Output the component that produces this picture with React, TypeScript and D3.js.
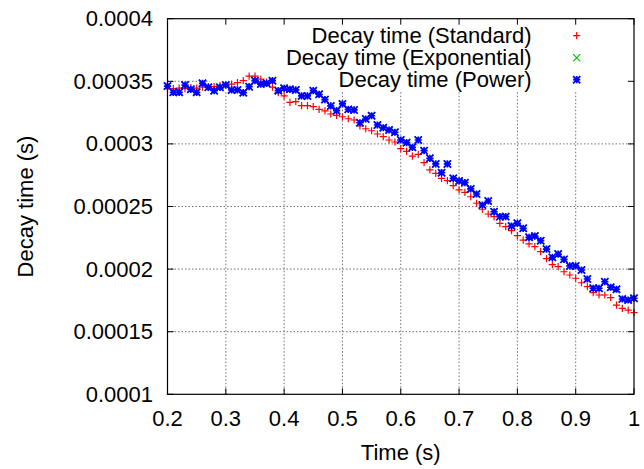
import React from "react";
import * as d3 from "d3";

const times: number[] = d3.range(81).map((i) => Math.round((0.2 + i * 0.01) * 100) / 100);

// Decay time values in microseconds (x1e-6 s)
const standardUs: number[] = [
  344.2, 344.2, 344.6, 344.2, 345.0, 344.6, 345.4, 345.8, 345.8, 346.6,
  347.4, 347.8, 349.0, 350.6, 354.2, 354.2, 351.8, 349.4, 345.4, 340.9,
  338.3, 333.1, 333.7, 330.5, 330.5, 329.7, 327.6, 326.3, 323.9, 322.8,
  321.7, 320.1, 319.1, 314.3, 312.1, 310.5, 307.9, 305.8, 303.1, 301.5,
  296.2, 294.1, 290.3, 291.7, 285.0, 279.2, 276.5, 272.5, 270.6, 266.6,
  263.2, 261.3, 257.8, 252.6, 247.8, 244.0, 241.9, 236.6, 233.9, 230.7,
  226.7, 223.2, 220.1, 217.9, 213.9, 208.3, 203.5, 201.9, 197.9, 195.3,
  192.7, 189.1, 186.0, 181.2, 179.3, 179.3, 177.2, 171.3, 168.7, 167.3,
  165.2,
];

const powerUs: number[] = [
  346.2, 341.2, 341.2, 347.0, 343.6, 341.2, 348.4, 345.2, 342.5, 345.2,
  347.0, 343.1, 343.1, 340.9, 345.7, 350.5, 347.8, 348.4, 350.5, 342.5,
  344.4, 343.6, 343.1, 338.3, 338.3, 342.5, 339.6, 335.4, 330.3, 326.5,
  331.9, 327.6, 327.1, 316.9, 319.9, 322.5, 315.1, 312.9, 311.1, 309.3,
  303.1, 301.0, 297.3, 303.1, 294.6, 288.5, 284.0, 277.0, 284.0, 272.5,
  270.4, 269.0, 264.0, 260.0, 251.2, 254.4, 245.8, 241.9, 241.9, 234.4,
  236.6, 232.6, 225.4, 226.4, 222.7, 216.0, 209.4, 212.0, 207.8, 202.5,
  202.5, 199.3, 192.1, 184.7, 184.7, 189.9, 185.5, 183.9, 176.1, 175.3,
  176.7,
];

// Exponential fit lies underneath the power fit
const exponentialUs: number[] = [
  346.2, 341.2, 341.2, 347.0, 343.6, 341.2, 348.4, 345.2, 342.5, 345.2,
  347.0, 343.1, 343.1, 340.9, 345.7, 350.5, 347.8, 348.4, 350.5, 342.5,
  344.4, 343.6, 343.1, 338.3, 338.3, 342.5, 339.6, 335.4, 330.3, 326.5,
  331.9, 327.6, 327.1, 316.9, 319.9, 322.5, 315.1, 312.9, 311.1, 309.3,
  303.1, 301.0, 297.3, 303.1, 294.6, 288.5, 284.0, 277.0, 284.0, 272.5,
  270.4, 269.0, 264.0, 260.0, 251.2, 254.4, 245.8, 241.9, 241.9, 234.4,
  236.6, 232.6, 225.4, 226.4, 222.7, 216.0, 209.4, 212.0, 207.8, 202.5,
  202.5, 199.3, 192.1, 184.7, 184.7, 189.9, 185.5, 183.9, 176.1, 175.3,
  176.7,
];

const xTicks: number[] = [0.2, 0.3, 0.4, 0.5, 0.6, 0.7, 0.8, 0.9, 1];
const yTicks: number[] = [0.0001, 0.00015, 0.0002, 0.00025, 0.0003, 0.00035, 0.0004];
const yTickLabels: string[] = ["0.0001", "0.00015", "0.0002", "0.00025", "0.0003", "0.00035", "0.0004"];
const seriesNames: string[] = ["Decay time (Standard)", "Decay time (Exponential)", "Decay time (Power)"];
const seriesColors: string[] = ["#ff0000", "#00c000", "#0000ff"];

const W = 644;
const H = 469;
const L = 167.5;
const R = 634;
const T = 18.7;
const B = 394.3;
const FONT = "'Liberation Sans', Arial, Helvetica, sans-serif";
const FS = 22;

const x = d3.scaleLinear().domain([0.2, 1]).range([L, R]);
const y = d3.scaleLinear().domain([0.0001, 0.0004]).range([B, T]);

function Marker({ kind, cx, cy, color }: { kind: number; cx: number; cy: number; color: string }) {
  const s = 3.6;
  const plus = `M${cx - s},${cy}H${cx + s}M${cx},${cy - s}V${cy + s}`;
  const cross = `M${cx - s},${cy - s}L${cx + s},${cy + s}M${cx - s},${cy + s}L${cx + s},${cy - s}`;
  const d = kind === 0 ? plus : kind === 1 ? cross : plus + cross;
  return <path d={d} stroke={color} strokeWidth={kind === 2 ? 1.7 : 1.2} fill="none" />;
}

export default function App() {
  const series = [standardUs, exponentialUs, powerUs];
  const keyBox = { x0: 210, x1: R, y0: T, y1: 92 };
  return (
    <svg
      width={W}
      height={H}
      style={{ position: "absolute", left: 0, top: 0, background: "#fff" }}
      fontFamily={FONT}
    >
      <rect x={0} y={0} width={W} height={H} fill="#fff" />
      {/* grid */}
      <g stroke="#707070" strokeWidth={1} strokeDasharray="1.5,2">
        {xTicks.slice(1, -1).map((t) => (
          <line key={"gx" + t} x1={x(t)} x2={x(t)} y1={T} y2={B} />
        ))}
        {yTicks.slice(1, -1).map((t) => (
          <line key={"gy" + t} x1={L} x2={R} y1={y(t)} y2={y(t)} />
        ))}
      </g>
      {/* opaque key background */}
      <rect x={keyBox.x0} y={keyBox.y0} width={keyBox.x1 - keyBox.x0} height={keyBox.y1 - keyBox.y0} fill="#fff" />
      {/* ticks */}
      <g stroke="#000" strokeWidth={1}>
        {xTicks.map((t) => (
          <g key={"tx" + t}>
            <line x1={x(t)} x2={x(t)} y1={B} y2={B - 6} />
            <line x1={x(t)} x2={x(t)} y1={T} y2={T + 6} />
          </g>
        ))}
        {yTicks.map((t) => (
          <g key={"ty" + t}>
            <line x1={L} x2={L + 6} y1={y(t)} y2={y(t)} />
            <line x1={R} x2={R - 6} y1={y(t)} y2={y(t)} />
          </g>
        ))}
      </g>
      {/* points */}
      {series.map((vals, si) => (
        <g key={"s" + si}>
          {vals.map((v, i) => (
            <Marker key={i} kind={si} cx={x(times[i])} cy={y(v * 1e-6)} color={seriesColors[si]} />
          ))}
        </g>
      ))}
      {/* border */}
      <rect x={L} y={T} width={R - L} height={B - T} fill="none" stroke="#000" strokeWidth={1.2} />
      {/* tick labels */}
      <g fontSize={FS} fill="#000">
        {xTicks.map((t) => (
          <text key={"lx" + t} x={x(t)} y={426} textAnchor="middle">
            {String(t)}
          </text>
        ))}
        {yTicks.map((t, i) => (
          <text key={"ly" + t} x={153} y={y(t) + 7.5} textAnchor="end">
            {yTickLabels[i]}
          </text>
        ))}
        <text x={(L + R) / 2} y={460} textAnchor="middle">
          Time (s)
        </text>
        <text transform={`translate(33,${(T + B) / 2}) rotate(-90)`} textAnchor="middle">
          Decay time (s)
        </text>
      </g>
      {/* legend */}
      <g fontSize={FS} fill="#000">
        {seriesNames.map((n, i) => (
          <g key={"k" + i}>
            <text x={531.7} y={42.7 + i * 22} textAnchor="end">
              {n}
            </text>
            <Marker kind={i} cx={576.7} cy={35.7 + i * 22} color={seriesColors[i]} />
          </g>
        ))}
      </g>
    </svg>
  );
}
